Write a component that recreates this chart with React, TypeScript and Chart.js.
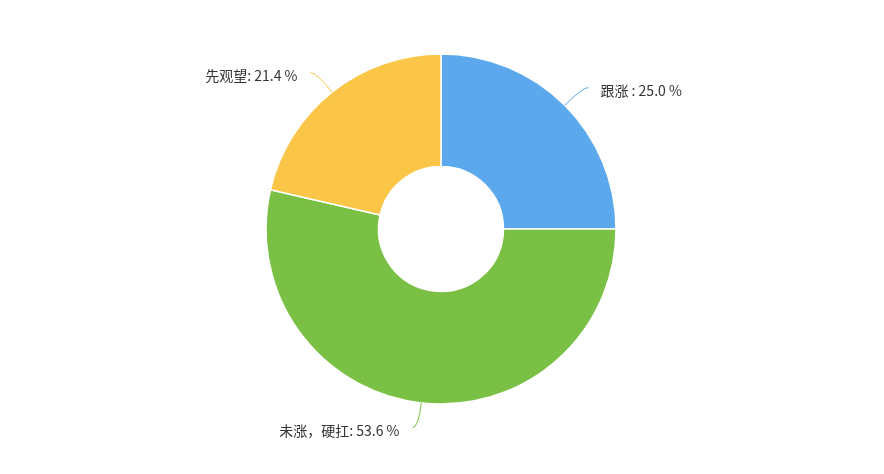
import React, { useRef, useEffect } from "react";
import { Chart, ChartConfiguration, Plugin, registerables } from "chart.js";
Chart.register(...registerables);

const categories = ["跟涨 ", "未涨，硬扛", "先观望"];
const percents = [25.0, 53.6, 21.4];
const colors = ["#5ba9ec", "#7ac045", "#fbc647"];

const labelFont = "14px 'Noto Sans CJK SC', 'Noto Sans', sans-serif";

// draws the curved leader lines and the "name: value %" labels
const pieLabels: Plugin = {
  id: "pieLabels",
  afterDraw(chart) {
    const ctx = chart.ctx;
    const meta = chart.getDatasetMeta(0);
    ctx.save();
    ctx.font = labelFont;
    ctx.textBaseline = "middle";
    meta.data.forEach((el: any, i: number) => {
      const { x, y, startAngle, endAngle, outerRadius } = el.getProps(
        ["x", "y", "startAngle", "endAngle", "outerRadius"],
        true
      );
      const mid = (startAngle + endAngle) / 2;
      const cos = Math.cos(mid);
      const sin = Math.sin(mid);
      const right = cos >= 0;
      const x0 = x + cos * outerRadius;
      const y0 = y + sin * outerRadius;
      const x1 = x + cos * (outerRadius + 25);
      const y1 = y + sin * (outerRadius + 25);
      const x2 = x1 + (right ? 6 : -6);
      ctx.strokeStyle = colors[i];
      ctx.lineWidth = 1;
      ctx.beginPath();
      ctx.moveTo(x0, y0);
      ctx.quadraticCurveTo(x1, y1, x2, y1);
      ctx.stroke();
      ctx.fillStyle = "#333";
      ctx.textAlign = right ? "left" : "right";
      const text = `${categories[i]}: ${percents[i].toFixed(1)} %`;
      ctx.fillText(text, x2 + (right ? 12 : -13), y1 + 3);
    });
    ctx.restore();
  },
};

const PieChart: React.FC = () => {
  const chartRef = useRef<HTMLCanvasElement>(null);

  useEffect(() => {
    if (chartRef.current) {
      const config: ChartConfiguration = {
        type: "doughnut",
        data: {
          labels: categories,
          datasets: [
            {
              data: percents,
              backgroundColor: colors,
              borderColor: "#ffffff",
              borderWidth: 1.5,
            },
          ],
        },
        options: {
          responsive: false,
          animation: false,
          events: [],
          radius: 175,
          cutout: "35.7%",
          layout: { padding: { top: 54, bottom: 70, left: 0, right: 2 } },
          plugins: {
            legend: { display: false },
            tooltip: { enabled: false },
          },
        } as any,
        plugins: [pieLabels],
      };
      const chart = new Chart(chartRef.current, config);
      return () => {
        chart.destroy();
      };
    }
  }, []);

  return (
    <div style={{ position: "absolute", left: 0, top: 0, width: 884, height: 474, background: "#fff" }}>
      <canvas ref={chartRef} width={884} height={474} style={{ width: 884, height: 474 }}></canvas>
    </div>
  );
};

export default function App() {
  return <PieChart />;
}
